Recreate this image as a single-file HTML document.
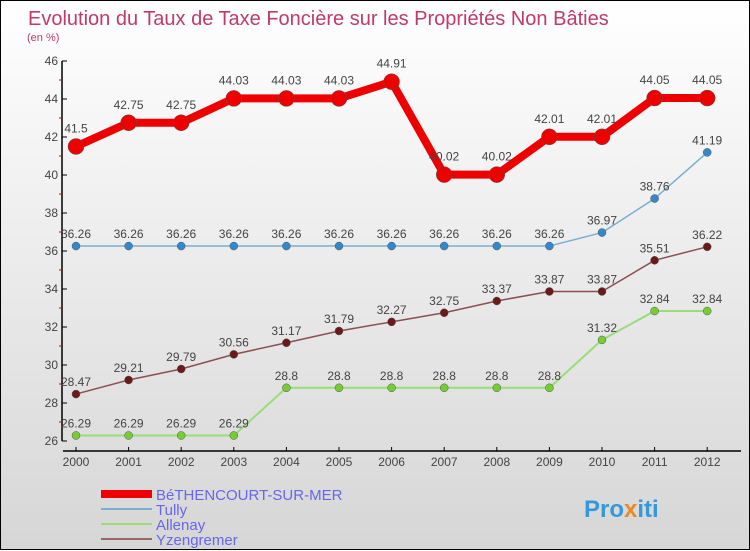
<!DOCTYPE html>
<html><head><meta charset="utf-8"><style>
html,body{margin:0;padding:0}
body{width:750px;height:550px;overflow:hidden;font-family:"Liberation Sans",sans-serif}
#wrap{position:relative;width:748px;height:548px;border:1px solid #000;background:linear-gradient(#ffffff,#d6d6d6)}
svg{position:absolute;left:0;top:0}
</style></head><body>
<div id="wrap">
<svg id="chart" width="750" height="550">
<text x="27" y="24" font-size="20" fill="#c03a6a">Evolution du Taux de Taxe Foncière sur les Propriétés Non Bâties</text>
<text x="26" y="40" font-size="11" fill="#c03a6a">(en %)</text>
<g id="legend">
<rect x="100" y="489" width="51" height="8" fill="#e00"/>
<text x="155" y="499" font-size="15" fill="#6666ee">BéTHENCOURT-SUR-MER</text>
<line x1="100" y1="508" x2="151" y2="508" stroke="#7aaed0" stroke-width="2"/>
<text x="155" y="514" font-size="15" fill="#6666ee">Tully</text>
<line x1="100" y1="523" x2="151" y2="523" stroke="#99dd77" stroke-width="2"/>
<text x="155" y="529" font-size="15" fill="#6666ee">Allenay</text>
<line x1="100" y1="538" x2="151" y2="538" stroke="#996666" stroke-width="2"/>
<text x="155" y="544" font-size="15" fill="#6666ee">Yzengremer</text>
</g>
<text x="583" y="516" font-size="24" font-weight="bold" fill="#3399dd">Pro<tspan fill="#ee8822">x</tspan>iti</text>
</svg>
</div>
<script>
const years=["2000","2001","2002","2003","2004","2005","2006","2007","2008","2009","2010","2011","2012"];
const bethencourt=[41.5,42.75,42.75,44.03,44.03,44.03,44.91,40.02,40.02,42.01,42.01,44.05,44.05];
const tully=[36.26,36.26,36.26,36.26,36.26,36.26,36.26,36.26,36.26,36.26,36.97,38.76,41.19];
const allenay=[26.29,26.29,26.29,26.29,28.8,28.8,28.8,28.8,28.8,28.8,31.32,32.84,32.84];
const yzengremer=[28.47,29.21,29.79,30.56,31.17,31.79,32.27,32.75,33.37,33.87,33.87,35.51,36.22];
const yTicks=[26,28,30,32,34,36,38,40,42,44,46];
const NS="http://www.w3.org/2000/svg";
const svg=document.getElementById('chart');
const X=i=>75+i*52.6;
const Y=v=>440-(v-26)*19;
function mk(t,a,p){const e=document.createElementNS(NS,t);for(const k in a)e.setAttribute(k,a[k]);(p||svg).appendChild(e);return e;}
const ax=mk('g',{});


const yl=mk('line',{x1:61,y1:Y(46),x2:61,y2:Y(26),stroke:'#000','stroke-width':1.5},ax);


yTicks.forEach(v=>{
 mk('line',{x1:61,y1:Y(v),x2:66,y2:Y(v),stroke:'#000'},ax);
 if(v<46) mk('line',{x1:58,y1:Y(v+1),x2:61,y2:Y(v+1),stroke:'#d00'},ax);
 const t=mk('text',{x:57,y:Y(v)+4,'text-anchor':'end','font-size':12,fill:'#444'},ax);
 t.textContent=v;
 
 
});
const xl=mk('line',{x1:62,y1:450,x2:740,y2:450,stroke:'#000','stroke-width':1.5},ax);


years.forEach((y,i)=>{
 mk('line',{x1:X(i),y1:446,x2:X(i),y2:450,stroke:'#000'},ax);
 const t=mk('text',{x:X(i),y:465,'text-anchor':'middle','font-size':12,fill:'#444'},ax);
 t.textContent=y;
 
 
});
function series(data,name,color,w,r,dot,labOff,fs){
 const g=mk('g',{});
 
 
 const pts=data.map((v,i)=>X(i)+','+Y(v)).join(' ');
 const pl=mk('polyline',{points:pts,fill:'none',stroke:color,'stroke-width':w,'stroke-linejoin':'round'},g);
 
 
 data.forEach((v,i)=>{
  const c=mk('circle',{cx:X(i),cy:Y(v),r:r,fill:dot,stroke:'#555','stroke-width':0.5},g);
  
  
  const t=mk('text',{x:X(i),y:Y(v)-labOff,'text-anchor':'middle','font-size':fs,fill:'#444'},g);
  t.textContent=String(v);
  
  
 });
}
series(yzengremer,'yzengremer','#8a5050',1.5,4,'#6a1a1a',8,12);
series(allenay,'allenay','#99dd77',2,4,'#77cc33',8,12);
series(tully,'tully','#7aaed0',1.5,4,'#3388cc',8,12);
series(bethencourt,'bethencourt','#ee0000',8,8,'#ee0000',14,12);
</script>
</body></html>
